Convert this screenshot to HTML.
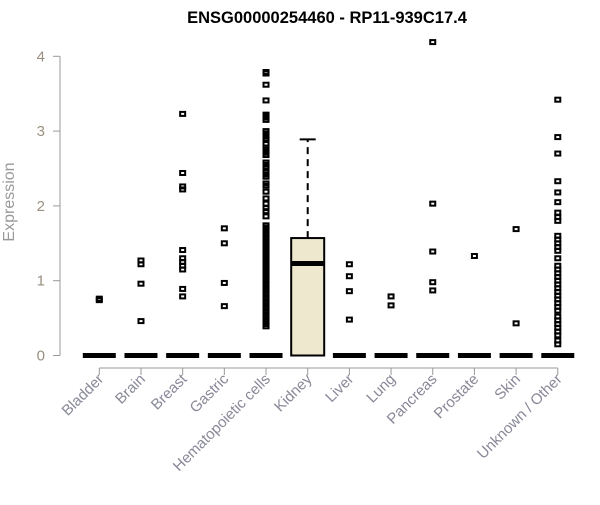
<!DOCTYPE html>
<html><head><meta charset="utf-8"><style>
body{margin:0;background:#fff}
svg text{font-family:"Liberation Sans",sans-serif}
</style></head><body>
<svg id="chart" width="600" height="500">
<text x="327" y="23" text-anchor="middle" font-size="16.5" font-weight="bold">ENSG00000254460 - RP11-939C17.4</text>
<text transform="translate(14,202) rotate(-90)" text-anchor="middle" font-size="16" fill="#999">Expression</text>
<g id="axes"></g><g id="plot"></g>
</svg>
<script>
const categories=["Bladder","Brain","Breast","Gastric","Hematopoietic cells","Kidney","Liver","Lung","Pancreas","Prostate","Skin","Unknown / Other"];
const q1=[0,0,0,0,0,0,0,0,0,0,0,0];
const medians=[0,0,0,0,0,1.23,0,0,0,0,0,0];
const q3=[0,0,0,0,0,1.57,0,0,0,0,0,0];
const whiskerHigh=[0,0,0,0,0,2.89,0,0,0,0,0,0];
const outliers=[
[0.74,0.76],
[1.27,1.22,0.96,0.46],
[3.23,2.44,2.26,2.22,1.41,1.3,1.25,1.2,1.15,0.89,0.79],
[1.70,1.50,0.97,0.66],
[3.79,3.77,3.62,3.41,3.22,3.2,3.18,3.15,3.0,2.97,2.93,2.9,2.88,2.83,2.78,2.75,2.71,2.68,2.58,2.55,2.52,2.45,2.42,2.39,2.3,2.27,2.19,2.10,2.03,1.97,1.93,1.86,1.74,1.71,1.68,1.65,1.62,1.59,1.56,1.53,1.5,1.47,1.44,1.41,1.38,1.35,1.32,1.29,1.26,1.23,1.2,1.17,1.14,1.11,1.08,1.05,1.02,0.99,0.96,0.93,0.9,0.87,0.84,0.81,0.78,0.75,0.72,0.69,0.66,0.63,0.6,0.57,0.54,0.51,0.48,0.45,0.42,0.39],
[],
[1.22,1.06,0.86,0.48],
[0.79,0.67],
[4.19,2.03,1.39,0.98,0.87],
[1.33],
[1.69,0.43],
[3.42,2.92,2.70,2.33,2.18,2.05,1.91,1.85,1.8,1.6,1.55,1.5,1.45,1.4,1.3,1.2,1.15,1.1,1.05,1.0,0.95,0.9,0.85,0.8,0.75,0.7,0.65,0.6,0.52,0.47,0.42,0.37,0.32,0.27,0.2,0.15]
];
const yTicks=[0,1,2,3,4];
const NS="http://www.w3.org/2000/svg";
const yS=v=>355.5-v*74.8;
const xS=i=>99.3+i*41.68;
const axes=document.getElementById('axes'),plot=document.getElementById('plot');
function mk(tag,attrs,parent){const e=document.createElementNS(NS,tag);for(const k in attrs)e.setAttribute(k,attrs[k]);parent.appendChild(e);return e;}
let yl=mk('line',{x1:60,x2:60,y1:yS(0),y2:yS(4),stroke:'#999'},axes);


yTicks.forEach(t=>{
 const l=mk('line',{x1:53,x2:60,y1:yS(t),y2:yS(t),stroke:'#999'},axes);
 
 
 const tx=mk('text',{x:45,y:yS(t)+5,'text-anchor':'end','font-size':15,fill:'#9a8f80'},axes);
 tx.textContent=t;
 
 
});
let xl=mk('line',{x1:xS(0),x2:xS(categories.length-1),y1:368,y2:368,stroke:'#999'},axes);


categories.forEach((c,i)=>{
 const x=xS(i);
 const l=mk('line',{x1:x,x2:x,y1:368,y2:375,stroke:'#999'},axes);
 
 
 const tx=mk('text',{transform:`translate(${x+5},${380}) rotate(-45)`,'text-anchor':'end','font-size':15,fill:'#888898'},axes);
 tx.textContent=c;
 
 
 const g=mk('g',{},plot);
 
 
 const hw=16.5;
 if(q3[i]>q1[i]){
  mk('line',{x1:x,x2:x,y1:yS(q3[i]),y2:yS(whiskerHigh[i]),stroke:'#000','stroke-width':2,'stroke-dasharray':'7,5'},g);
  mk('line',{x1:x-8,x2:x+8,y1:yS(whiskerHigh[i]),y2:yS(whiskerHigh[i]),stroke:'#000','stroke-width':2},g);
  mk('rect',{x:x-hw,y:yS(q3[i]),width:2*hw,height:yS(q1[i])-yS(q3[i]),fill:'#ede8ce',stroke:'#000','stroke-width':2},g);
 }
 mk('line',{x1:x-hw,x2:x+hw,y1:yS(medians[i]),y2:yS(medians[i]),stroke:'#000','stroke-width':5},g);
 outliers[i].forEach(v=>{
  const p=mk('rect',{x:x-2.5,y:yS(v)-2,width:5,height:4,fill:'none',stroke:'#000','stroke-width':2},g);
  
  
 });
});
</script>
</body></html>
